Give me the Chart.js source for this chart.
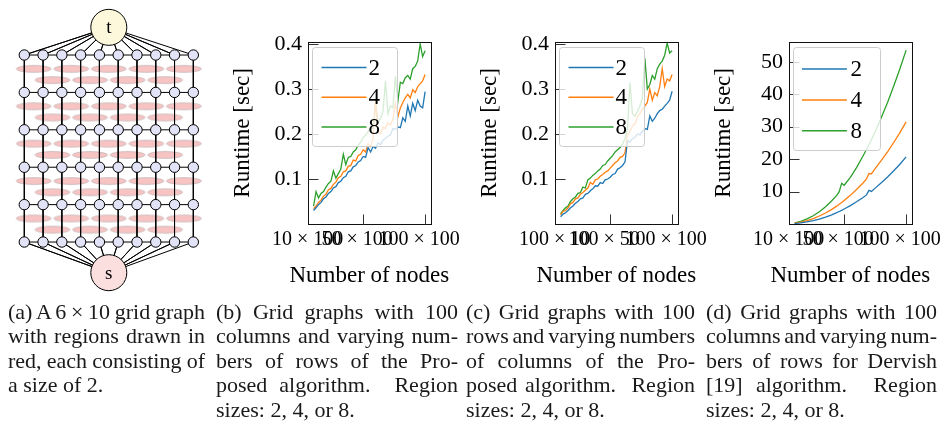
<!DOCTYPE html>
<html>
<head>
<meta charset="utf-8">
<title>Grid graph runtimes</title>
<script src="https://cdn.jsdelivr.net/npm/chart.js@4.4.1/dist/chart.umd.min.js"></script>
<style>
  body { margin: 0; background: #fff; }
  #page { position: relative; width: 941px; height: 423px; overflow: hidden; }
  canvas { position: absolute; top: 0; }
  .cap { position: absolute; top: 300px; font: 22px/24.4px "Liberation Serif", serif; color: #1a1a1a; }
  .cap div { text-align: justify; text-align-last: justify; white-space: nowrap; }
  .cap div.last { text-align-last: left; }
  .cap div.s1 { word-spacing: -0.6px; }
  .cap div.s2 { word-spacing: -1.4px; }
  .cap div.s3 { word-spacing: -2px; }
</style>
</head>
<body>
<div id="page">
  <canvas id="graphA" width="225" height="300" style="left:0"></canvas>
  <canvas id="chartB" width="250" height="300" style="left:225px"></canvas>
  <canvas id="chartC" width="250" height="300" style="left:472px"></canvas>
  <canvas id="chartD" width="235" height="300" style="left:706px"></canvas>

  <div class="cap" style="left:8px;width:197px">
    <div class="s2">(a) A 6 × 10 grid graph</div>
    <div>with regions drawn in</div>
    <div class="s1">red, each consisting of</div>
    <div class="last">a size of 2.</div>
  </div>
  <div class="cap" style="left:216px;width:242px">
    <div>(b) Grid graphs with 100</div>
    <div>columns and varying num-</div>
    <div>bers of rows of the Pro-</div>
    <div>posed algorithm.&nbsp; Region</div>
    <div class="last">sizes: 2, 4, or 8.</div>
  </div>
  <div class="cap" style="left:466px;width:229px">
    <div>(c) Grid graphs with 100</div>
    <div class="s3">rows and varying numbers</div>
    <div>of columns of the Pro-</div>
    <div>posed algorithm.&nbsp; Region</div>
    <div class="last">sizes: 2, 4, or 8.</div>
  </div>
  <div class="cap" style="left:706px;width:231px">
    <div>(d) Grid graphs with 100</div>
    <div class="s3">columns and varying num-</div>
    <div>bers of rows for Dervish</div>
    <div>[19] algorithm.&nbsp; Region</div>
    <div class="last">sizes: 2, 4, or 8.</div>
  </div>
</div>
<script>
// ---- panel (a): the 6 x 10 grid graph ----
const gridCols = 10;
const gridRows = 6;
const pairsOuter = [[0, 1], [2, 3], [4, 5], [6, 7], [8, 9]];
const pairsInner = [[1, 2], [3, 4], [5, 6], [7, 8]];
const sinkNode = { x: 4.5, y: -0.74, label: 't' };
const sourceNode = { x: 4.5, y: 5.82, label: 's' };

// ---- panels (b)-(d): runtimes ----
const regionSizes = ['2', '4', '8'];
const lineColors = ['#1f77b4', '#ff7f0e', '#2ca02c'];

const xRows = [10,12,14,16,18,20,22,24,26,28,30,32,34,36,38,40,42,44,46,48,50,52,54,56,58,60,62,64,66,68,70,72,74,76,78,80,82,84,86,88,90,92,94,96,98,100];

const runtimeB2 = [.030,.036,.043,.048,.056,.060,.068,.072,.080,.083,.092,.095,.103,.106,.116,.118,.127,.130,.138,.141,
  .150,.148,.170,.160,.172,.168,.180,.176,.186,.190,.195,.198,.212,.210,.216,.214,.236,.228,.262,.240,.268,.252,.275,.262,.258,.294];
const runtimeB4 = [.034,.040,.048,.053,.062,.066,.076,.079,.088,.093,.103,.106,.116,.118,.128,.130,.142,.140,.152,.155,
  .165,.160,.178,.172,.190,.272,.205,.200,.215,.212,.225,.220,.232,.268,.238,.258,.270,.280,.288,.280,.298,.292,.305,.312,.318,.332];
const runtimeB8 = [.040,.072,.058,.068,.072,.082,.090,.095,.118,.102,.112,.122,.155,.132,.148,.150,.160,.165,.175,.182,
  .192,.198,.205,.215,.212,.270,.225,.235,.250,.318,.245,.262,.258,.328,.272,.315,.312,.325,.330,.322,.345,.350,.362,.400,.372,.385];

const runtimeC2 = [.016,.022,.025,.030,.036,.040,.046,.050,.056,.058,.066,.068,.074,.078,.085,.084,.092,.090,.098,.100,
  .104,.110,.112,.122,.125,.130,.138,.185,.182,.190,.192,.200,.198,.206,.212,.210,.240,.228,.235,.245,.252,.255,.262,.268,.275,.295];
const runtimeC4 = [.020,.028,.030,.036,.045,.048,.056,.058,.066,.070,.075,.080,.092,.088,.098,.100,.106,.110,.115,.118,
  .124,.130,.136,.140,.148,.150,.158,.198,.205,.218,.222,.238,.245,.255,.262,.270,.300,.275,.292,.285,.305,.345,.305,.322,.318,.332];
const runtimeC8 = [.023,.030,.036,.040,.050,.056,.060,.068,.070,.082,.080,.098,.102,.108,.112,.118,.122,.130,.132,.140,
  .146,.152,.160,.165,.170,.178,.190,.212,.315,.245,.240,.250,.262,.280,.368,.300,.310,.330,.322,.345,.355,.362,.375,.402,.380,.385];

const xRowsD = [10,15,20,25,30,35,40,44,46,48,50,55,60,65,68,70,72,75,80,85,90,95,100];
const runtimeD2 = [0.14,0.35,0.63,1.04,1.52,2.14,2.84,3.49,3.86,4.21,4.62,5.66,6.85,8.11,8.96,10.35,10.05,11.06,12.74,14.48,16.43,18.42,20.7];
const runtimeD4 = [0.24,0.56,1.05,1.65,2.46,3.38,4.51,5.50,6.06,6.61,7.24,8.83,10.65,12.58,13.88,15.55,15.45,17.05,19.58,22.24,25.13,28.15,31.5];
const runtimeD8 = [0.38,0.84,1.56,2.53,3.80,5.31,7.15,8.80,9.95,12.55,11.95,14.40,17.40,20.80,22.95,24.45,26.05,28.45,32.82,37.48,42.52,47.86,53.6];

const xTickValues = [10, 50, 100];
const xTickLabelsRows = ['10 × 100', '50 × 100', '100 × 100'];
const xTickLabelsCols = ['100 × 10', '100 × 50', '100 × 100'];
const yTicksSec = [0.1, 0.2, 0.3, 0.4];
const yTicksDervish = [10, 20, 30, 40, 50];
const xAxisTitle = 'Number of nodes';
const yAxisTitle = 'Runtime [sec]';

const serif = '"Liberation Serif", "Times New Roman", serif';
Chart.defaults.font.family = serif;
Chart.defaults.font.size = 22;
Chart.defaults.color = '#000';

// ---------- panel (a) ----------
const ellipse = document.createElement('canvas');
ellipse.width = 38; ellipse.height = 10;
(function () {
  const g = ellipse.getContext('2d');
  g.beginPath();
  g.ellipse(19, 5, 17.5, 3.4, 0, 0, Math.PI * 2);
  g.fillStyle = 'rgba(246,175,175,0.75)';
  g.fill();
  g.strokeStyle = 'rgba(190,180,180,0.7)';
  g.lineWidth = 1;
  g.stroke();
})();

const nodes = [];
for (let r = 0; r < gridRows; r++) for (let c = 0; c < gridCols; c++) nodes.push({ x: c, y: r });

const edgeSets = [];
for (let r = 0; r < gridRows; r++) edgeSets.push([{ x: 0, y: r }, { x: gridCols - 1, y: r }]);
for (let c = 0; c < gridCols; c++) edgeSets.push([{ x: c, y: 0 }, { x: c, y: gridRows - 1 }]);
const fanTop = [], fanBottom = [];
for (let c = 0; c < gridCols; c++) {
  fanTop.push(sinkNode, { x: c, y: 0 });
  fanBottom.push(sourceNode, { x: c, y: gridRows - 1 });
}
edgeSets.push(fanTop, fanBottom);

const regions = [];
for (let r = 0; r < gridRows - 1; r++) {
  pairsOuter.forEach(p => regions.push({ x: (p[0] + p[1]) / 2, y: r + 0.37 }));
  pairsInner.forEach(p => regions.push({ x: (p[0] + p[1]) / 2, y: r + 0.67 }));
}

const terminalText = {
  id: 'terminalText',
  afterDatasetsDraw(chart) {
    const { ctx, scales: { x, y } } = chart;
    ctx.save();
    ctx.font = '19px ' + serif;
    ctx.fillStyle = '#000';
    ctx.textAlign = 'center';
    ctx.textBaseline = 'middle';
    [sinkNode, sourceNode].forEach(n => ctx.fillText(n.label, x.getPixelForValue(n.x), y.getPixelForValue(n.y) + 1));
    ctx.restore();
  }
};

new Chart(document.getElementById('graphA'), {
  type: 'scatter',
  data: {
    datasets: [
      { data: [sinkNode, sourceNode], pointRadius: 18, backgroundColor: ['#fdf8dc', '#fbdfdf'], borderColor: '#000', borderWidth: 1 },
      { data: nodes, pointRadius: 5.2, backgroundColor: '#e3e3f8', borderColor: '#000', borderWidth: 1 },
      ...edgeSets.map(d => ({ data: d, showLine: true, pointRadius: 0, borderColor: '#000', borderWidth: 1 })),
      { data: regions, pointStyle: ellipse, pointRadius: 18 }
    ]
  },
  options: {
    responsive: false, animation: false, events: [],
    layout: { padding: 0, autoPadding: false },
    plugins: { legend: { display: false }, tooltip: { enabled: false } },
    scales: {
      x: { type: 'linear', display: false, min: -1.294, max: 10.687 },
      y: { type: 'linear', display: false, min: -1.471, max: 6.55, reverse: true }
    }
  },
  plugins: [terminalText]
});

// ---------- panels (b)-(d) ----------
const axesFrame = {
  id: 'axesFrame',
  afterDatasetsDraw(chart, args, o) {
    const { ctx, chartArea: a, scales } = chart;
    const L = Math.round(a.left) + 0.5, R = Math.round(a.right) + 0.5;
    const T = Math.round(a.top) + 0.5, B = Math.round(a.bottom) + 0.5;
    ctx.save();
    ctx.strokeStyle = '#111';
    ctx.lineWidth = 1;
    ctx.strokeRect(L, T, R - L, B - T);
    ctx.strokeStyle = '#333';
    ctx.beginPath();
    o.yTicks.forEach(v => {
      const y = Math.round(scales.y.getPixelForValue(v)) + 0.5;
      ctx.moveTo(L, y); ctx.lineTo(L + 10, y);
    });
    xTickValues.forEach(v => {
      const x = Math.round(scales.x.getPixelForValue(v)) + 0.5;
      if (x - L < 8) return;
      ctx.moveTo(x, B); ctx.lineTo(x, B - 10);
    });
    ctx.stroke();
    // x-axis title, drawn here so it is not squeezed to the plot width
    ctx.font = '23px ' + serif;
    ctx.fillStyle = '#000';
    ctx.textAlign = 'center';
    ctx.textBaseline = 'alphabetic';
    ctx.fillText(o.xTitle, (a.left + a.right) / 2, 281.5);
    ctx.restore();
  }
};

const insideLegend = {
  id: 'insideLegend',
  afterDraw(chart, args, o) {
    const { ctx, chartArea: a } = chart;
    const x = Math.round(a.left + o.dx) + 0.5, y = Math.round(a.top + o.dy) + 0.5;
    ctx.save();
    ctx.beginPath();
    ctx.roundRect(x, y, o.w, o.h, 3);
    ctx.fillStyle = 'rgba(255,255,255,0.8)';
    ctx.fill();
    ctx.strokeStyle = '#cccccc';
    ctx.lineWidth = 1;
    ctx.stroke();
    ctx.font = '23px ' + serif;
    ctx.textBaseline = 'middle';
    chart.data.datasets.forEach((ds, i) => {
      const ly = y + o.first + i * o.gap;
      ctx.strokeStyle = ds.borderColor;
      ctx.lineWidth = 1.5;
      ctx.beginPath();
      ctx.moveTo(x + o.lx0, ly); ctx.lineTo(x + o.lx1, ly);
      ctx.stroke();
      ctx.fillStyle = '#000';
      ctx.fillText(ds.label, x + o.tx, ly + 1);
    });
    ctx.restore();
  }
};

function runtimeChart(id, xs, series, yMax, yTicks, xLabels, padRight, legendBox) {
  return new Chart(document.getElementById(id), {
    type: 'line',
    data: {
      datasets: series.map((ys, i) => ({
        label: regionSizes[i],
        data: ys.map((v, k) => ({ x: xs[k], y: v })),
        borderColor: lineColors[i],
        borderWidth: 1.3,
        pointRadius: 0,
        tension: 0,
        fill: false
      }))
    },
    options: {
      responsive: false, animation: false, events: [],
      layout: { padding: { left: 0, right: padRight, top: 41.7, bottom: 0 } },
      plugins: {
        legend: { display: false },
        tooltip: { enabled: false },
        axesFrame: { yTicks: yTicks, xTitle: xAxisTitle },
        insideLegend: legendBox
      },
      scales: {
        x: {
          type: 'linear', min: 5.5, max: 104.5,
          grid: { display: false, drawTicks: false },
          border: { display: false },
          afterBuildTicks: s => { s.ticks = xTickValues.map(v => ({ value: v })); },
          afterFit: s => { s.height = 76; s.paddingLeft = 0; s.paddingRight = 0; },
          ticks: {
            autoSkip: false, maxRotation: 0, minRotation: 0, padding: 4, labelOffset: -6,
            font: { size: 20 },
            callback: v => xLabels[xTickValues.indexOf(v)]
          }
        },
        y: {
          type: 'linear', min: 0, max: yMax,
          grid: { display: false, drawTicks: false },
          border: { display: false },
          afterBuildTicks: s => { s.ticks = yTicks.map(v => ({ value: v })); },
          afterFit: s => { s.width = 83; s.paddingTop = 0; s.paddingBottom = 0; },
          ticks: { padding: 6 },
          title: { display: true, text: yAxisTitle, font: { size: 23 }, padding: { top: 4, bottom: 0 } }
        }
      }
    },
    plugins: [axesFrame, insideLegend]
  });
}

const legendSmall = { dx: 4.4, dy: 5, w: 85, h: 99, lx0: 9, lx1: 54, tx: 56, first: 20, gap: 29.7 };
const legendLarge = { dx: 4, dy: 5, w: 87, h: 103, lx0: 8.4, lx1: 53.4, tx: 57, first: 21.6, gap: 30.8 };

runtimeChart('chartB', xRows, [runtimeB2, runtimeB4, runtimeB8], 0.405, yTicksSec, xTickLabelsRows, 44.3, legendSmall);
runtimeChart('chartC', xRows, [runtimeC2, runtimeC4, runtimeC8], 0.405, yTicksSec, xTickLabelsCols, 44.3, legendSmall);
runtimeChart('chartD', xRowsD, [runtimeD2, runtimeD4, runtimeD8], 56.2, yTicksDervish, xTickLabelsRows, 29.3, legendLarge);
</script>
</body>
</html>
